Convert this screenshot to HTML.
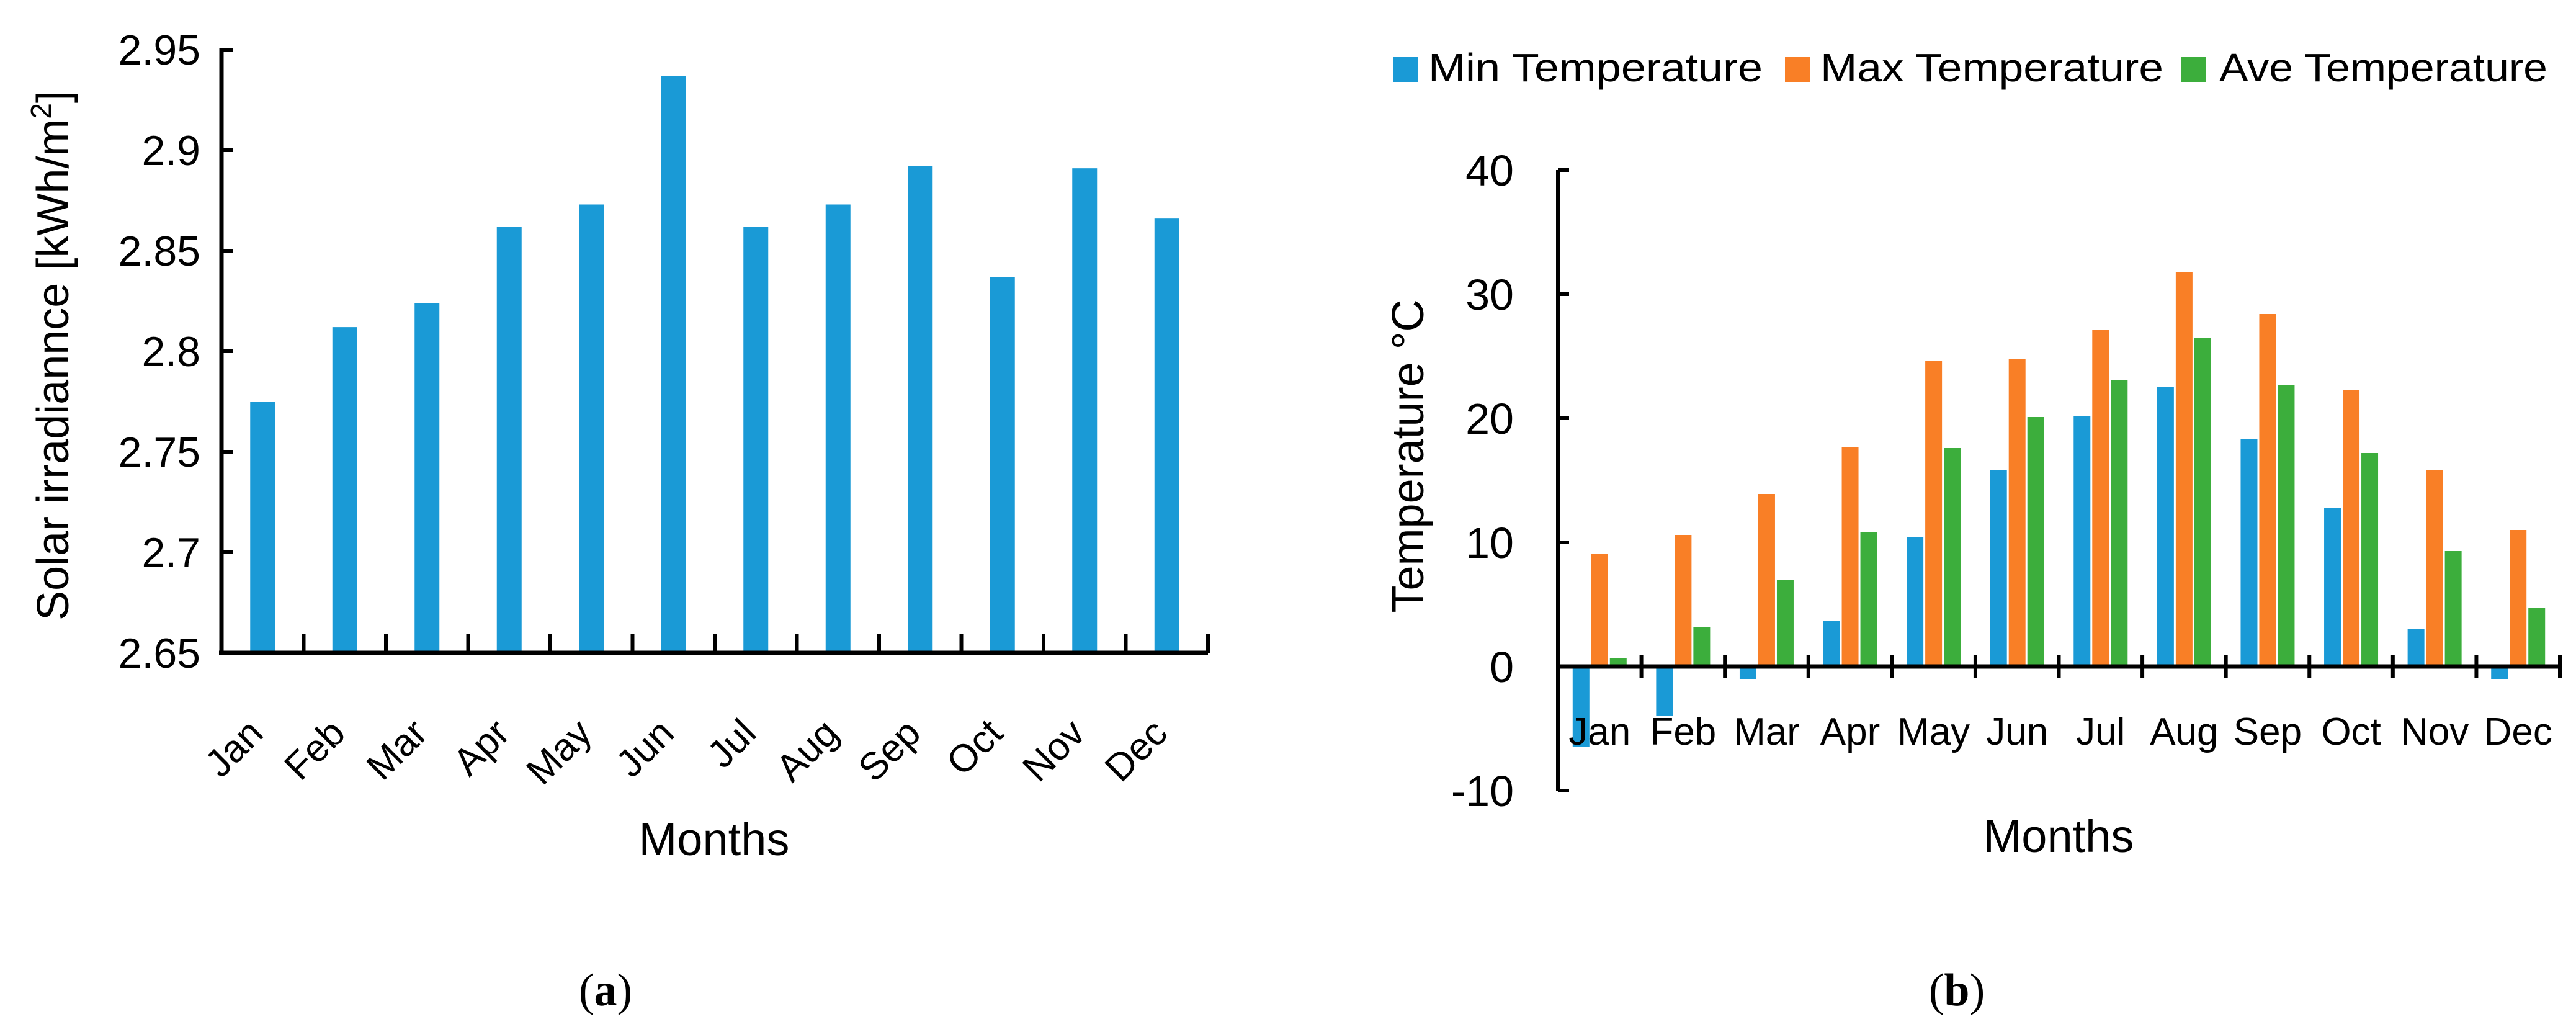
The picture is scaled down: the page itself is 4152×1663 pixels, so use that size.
<!DOCTYPE html>
<html><head><meta charset="utf-8"><style>
html,body{margin:0;padding:0;background:#fff;}
svg{display:block;font-family:"Liberation Sans",sans-serif;}
</style></head><body>
<svg id="chart" width="4152" height="1663" viewBox="0 0 4152 1663" xmlns="http://www.w3.org/2000/svg">
<g id="left"></g>
<g id="right"></g>
<text x="976" y="1620" font-family="Liberation Serif,serif" font-size="74" text-anchor="middle">(<tspan font-weight="bold">a</tspan>)</text>
<text x="3154" y="1620" font-family="Liberation Serif,serif" font-size="74" text-anchor="middle">(<tspan font-weight="bold">b</tspan>)</text>
</svg>
<script>
const months = ["Jan","Feb","Mar","Apr","May","Jun","Jul","Aug","Sep","Oct","Nov","Dec"];
const solar = [2.775,2.812,2.824,2.862,2.873,2.937,2.862,2.873,2.892,2.837,2.891,2.866];
const solarTicks = ["2.65","2.7","2.75","2.8","2.85","2.9","2.95"];
const tMin = [-6.5,-4,-1,3.7,10.4,15.8,20.2,22.5,18.3,12.8,3,-1];
const tMax = [9.1,10.6,13.9,17.7,24.6,24.8,27.1,31.8,28.4,22.3,15.8,11];
const tAve = [0.7,3.2,7,10.8,17.6,20.1,23.1,26.5,22.7,17.2,9.3,4.7];
const tempTicks = ["-10","0","10","20","30","40"];
const NS="http://www.w3.org/2000/svg";
function mk(parent,tag,attrs,text){const e=document.createElementNS(NS,tag);for(const k in attrs)e.setAttribute(k,attrs[k]);if(text!==undefined)e.textContent=text;parent.appendChild(e);return e;}

// Left chart
const L=document.getElementById('left');
const lx0=357,lx1=1947,ly0=1052,ly1=80,lmin=2.65,lmax=2.95;
const lcw=(lx1-lx0)/months.length;
const lY=v=>ly0-(v-lmin)/(lmax-lmin)*(ly0-ly1);
const lX=i=>lx0+lcw*(i+0.5);
solar.forEach((v,i)=>{
  const r=mk(L,'rect',{x:lX(i)-20,y:lY(v),width:40,height:ly0-lY(v),fill:'#1a9ad6'});
  
  
});
mk(L,'line',{x1:lx0,y1:ly1-2,x2:lx0,y2:ly0+4,stroke:'#000','stroke-width':7});
mk(L,'line',{x1:lx0-4,y1:ly0,x2:lx1,y2:ly0,stroke:'#000','stroke-width':7});
solarTicks.forEach(t=>{
  const y=lY(parseFloat(t));
  mk(L,'line',{x1:lx0,y1:y,x2:lx0+18,y2:y,stroke:'#000','stroke-width':6});
  const tx=mk(L,'text',{x:323,y:y+24,'font-size':68,'text-anchor':'end'},t);
  
  
});
months.forEach((m,i)=>{
  const x=lx0+lcw*(i+1);
  mk(L,'line',{x1:x,y1:ly0,x2:x,y2:ly0-30,stroke:'#000','stroke-width':6});
  const cx=lX(i);
  const tx=mk(L,'text',{x:cx+4,y:1185,'font-size':62,'text-anchor':'end',transform:`rotate(-45 ${cx+4} 1185)`},m);
  
  
});
const lyt=mk(L,'text',{x:0,y:0,'font-size':72,'text-anchor':'middle',transform:'translate(110 573) rotate(-90)'});


lyt.innerHTML='Solar irradiannce [kWh/m<tspan font-size="46" dy="-28">2</tspan><tspan dy="28">]</tspan>';
const lxt=mk(L,'text',{x:1151,y:1378,'font-size':74,'text-anchor':'middle'},'Months');



// Right chart
const R=document.getElementById('right');
const rx0=2511,rx1=4126,tminV=-10,tmaxV=40,ryTop=274,ryBot=1274;
const rcw=(rx1-rx0)/months.length;
const rY=v=>ryBot-(v-tminV)/(tmaxV-tminV)*(ryBot-ryTop);
const bw=27,gap=3;
const series=[[tMin,'#1a9ad6','min'],[tMax,'#f97f26','max'],[tAve,'#3cae3c','ave']];
months.forEach((m,i)=>{
  const gx=rx0+rcw*i+(rcw-(3*bw+2*gap))/2;
  series.forEach((s,k)=>{
    const v=s[0][i];const y0=rY(0),y=rY(v);
    const r=mk(R,'rect',{x:gx+k*(bw+gap),y:Math.min(y,y0),width:bw,height:Math.abs(y0-y),fill:s[1]});
    
    
  });
});
mk(R,'line',{x1:rx0,y1:ryTop,x2:rx0,y2:ryBot,stroke:'#000','stroke-width':6});
mk(R,'line',{x1:rx0,y1:rY(0),x2:rx1,y2:rY(0),stroke:'#000','stroke-width':7});
tempTicks.forEach(t=>{
  const y=rY(parseFloat(t));
  mk(R,'line',{x1:rx0,y1:y,x2:rx0+18,y2:y,stroke:'#000','stroke-width':6});
  const tx=mk(R,'text',{x:2440,y:y+25,'font-size':70,'text-anchor':'end'},t);
  
  
});
months.forEach((m,i)=>{
  const x=rx0+rcw*(i+1);
  mk(R,'line',{x1:x,y1:rY(0)-18,x2:x,y2:rY(0)+18,stroke:'#000','stroke-width':6});
  const tx=mk(R,'text',{x:rx0+rcw*(i+0.5),y:1200,'font-size':62,'text-anchor':'middle'},m);
  
  
});
const ryt=mk(R,'text',{x:0,y:0,'font-size':72,'text-anchor':'middle',transform:'translate(2294 735) rotate(-90)'},'Temperature °C');


const rxt=mk(R,'text',{x:3318,y:1373,'font-size':74,'text-anchor':'middle'},'Months');



// Legend
const legend=[['Min Temperature','#1a9ad6',2246,2302,539],['Max Temperature','#f97f26',2877,2934,553],['Ave Temperature','#3cae3c',3515,3577,529]];
legend.forEach(l=>{
  const g=mk(R,'g',{});
  
  
  mk(g,'rect',{x:l[2],y:92,width:40,height:40,fill:l[1]});
  mk(g,'text',{x:l[3],y:131,'font-size':64,textLength:l[4],lengthAdjust:'spacingAndGlyphs'},l[0]);
});
</script>
</body></html>
